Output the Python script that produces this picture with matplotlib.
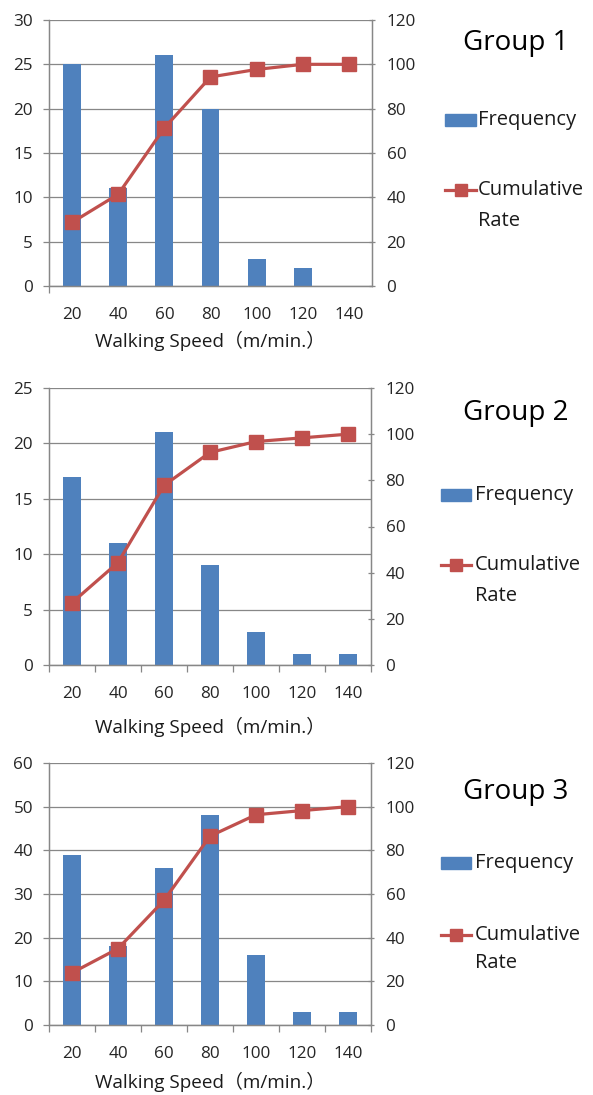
import numpy as np
import matplotlib
matplotlib.use('Agg')
import matplotlib.pyplot as plt
from matplotlib.patches import Rectangle
from matplotlib.lines import Line2D

plt.rcParams['font.family'] = ['Open Sans', 'Noto Sans CJK JP', 'DejaVu Sans']

speeds = ['20', '40', '60', '80', '100', '120', '140']
groups = ['Group 1', 'Group 2', 'Group 3']

freq1 = [25, 11, 26, 20, 3, 2, 0]
freq2 = [17, 11, 21, 9, 3, 1, 1]
freq3 = [39, 18, 36, 48, 16, 3, 3]

cum1 = [28.7, 41.4, 71.3, 94.3, 97.7, 100, 100]
cum2 = [27.0, 44.4, 77.8, 92.1, 96.8, 98.4, 100]
cum3 = [23.9, 35.0, 57.1, 86.5, 96.3, 98.2, 100]

left_max = [30, 25, 60]
left_step = [5, 5, 10]

freqs = [freq1, freq2, freq3]
cums = [cum1, cum2, cum3]

W, H = 593, 1095
fig = plt.figure(figsize=(W / 100, H / 100), dpi=100)

# panel boxes in pixels: left, top, right, bottom
boxes = [(49, 20, 372, 286), (49, 388, 371, 665), (49, 763, 371, 1025)]
# legend rows (pixels): title, frequency, cumulative, rate
leg_y = [(43, 120, 190, 221), (413, 495, 565, 596), (792, 863, 935, 963)]
xlab_pad = [6, 11, 7]

bar_c = '#4F81BD'
line_c = '#C0504D'
grid_c = '#878787'
txt_c = '#262626'

x = np.arange(len(speeds))

for i in range(3):
    l, t, r, b = boxes[i]
    ax = fig.add_axes([l / W, 1 - b / H, (r - l) / W, (b - t) / H])
    ax2 = ax.twinx()

    ax.bar(x, freqs[i], width=0.39, color=bar_c, zorder=2)
    ax2.plot(x, cums[i], color=line_c, lw=2.3, marker='s', ms=9.5,
             mfc=line_c, mec=line_c, zorder=3)

    ax.set_xlim(-0.5, 6.5)
    ax.set_ylim(0, left_max[i])
    ax.set_yticks(np.arange(0, left_max[i] + 1, left_step[i]))
    ax2.set_ylim(0, 120)
    ax2.set_yticks(np.arange(0, 121, 20))

    ax.yaxis.grid(True, color=grid_c, lw=0.9, zorder=0)
    ax.set_axisbelow(True)

    for a in (ax, ax2):
        a.spines['top'].set_visible(False)
        for s in ('left', 'right', 'bottom'):
            a.spines[s].set_color(grid_c)
            a.spines[s].set_linewidth(0.9)

    ax.set_xticks(x)
    ax.set_xticklabels(speeds)
    if i == 0:
        ax.set_xticks([-0.5], minor=True)
    else:
        ax.set_xticks(np.arange(-0.5, 7, 1), minor=True)
    ax.tick_params(axis='x', which='major', length=0, pad=15)
    ax.tick_params(axis='x', which='minor', length=5, color=grid_c, width=0.9)
    ax.tick_params(axis='x', labelsize=12.3, labelcolor=txt_c)
    ax.tick_params(axis='y', length=4.5, color=grid_c, width=0.9, pad=7,
                   labelsize=12.3, labelcolor=txt_c)
    ax2.tick_params(axis='y', direction='inout', length=5, color=grid_c,
                    width=0.9, pad=8, labelsize=12.3, labelcolor=txt_c)

    ax.set_xlabel('Walking Speed（m/min.）', fontsize=13.6, color='#1a1a1a',
                  labelpad=xlab_pad[i])

    # legend on the right
    ty, fy, cy, ry = leg_y[i]
    fig.text(516 / W, 1 - ty / H, groups[i], fontsize=20, ha='center',
             va='center', color='black')
    lx0, lx1 = (445, 476) if i == 0 else (441, 471)
    tx = 478 if i == 0 else 475
    fig.add_artist(Rectangle((lx0 / W, 1 - (fy + 6) / H), (lx1 - lx0) / W,
                             12 / H, transform=fig.transFigure,
                             color=bar_c))
    fig.add_artist(Line2D([lx0 / W, lx1 / W], [1 - cy / H, 1 - cy / H],
                          transform=fig.transFigure, color=line_c, lw=2.3))
    fig.add_artist(Line2D([(lx0 + lx1) / 2 / W], [1 - cy / H],
                          transform=fig.transFigure, color=line_c,
                          marker='s', ms=8.5, lw=0))
    fig.text(tx / W, 1 - fy / H, 'Frequency', fontsize=14.5, va='center',
             color='#1a1a1a')
    fig.text(tx / W, 1 - cy / H, 'Cumulative', fontsize=14.5, va='center',
             color='#1a1a1a')
    fig.text(tx / W, 1 - ry / H, 'Rate', fontsize=14.5, va='center',
             color='#1a1a1a')

fig.savefig('out.png', dpi=100)
